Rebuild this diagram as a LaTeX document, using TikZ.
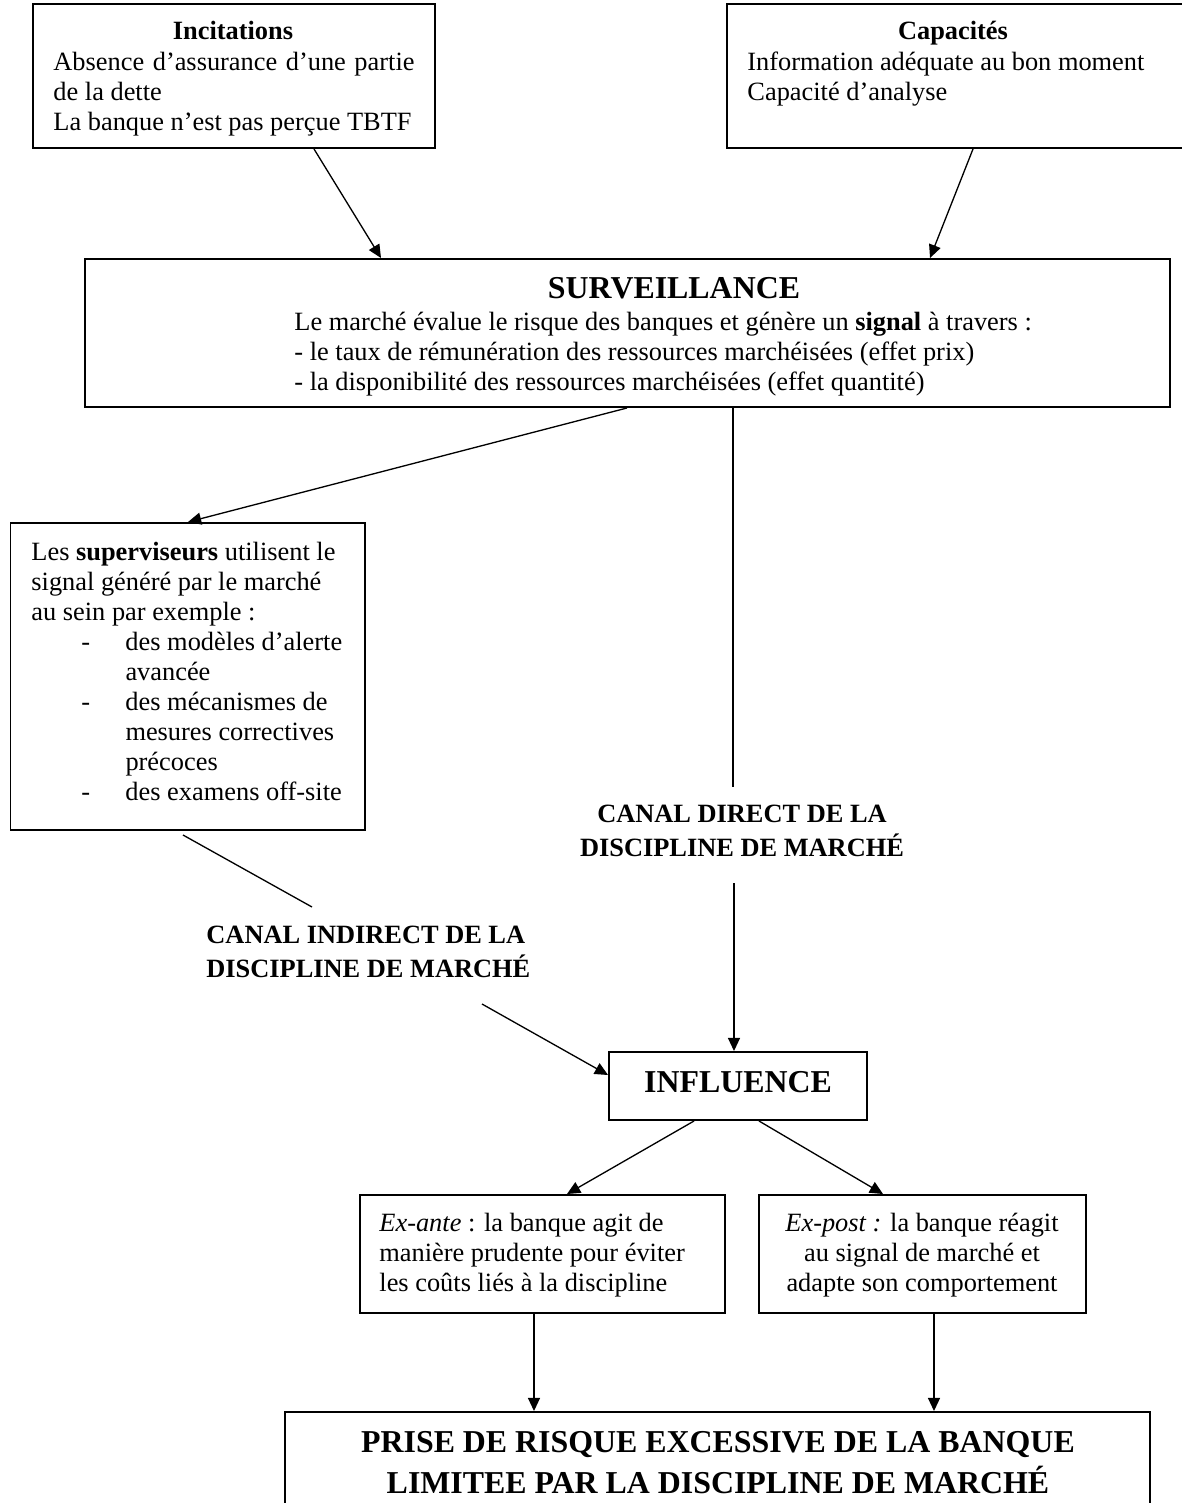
\documentclass[tikz,border=0pt]{standalone}
\usepackage{fontspec}
\setmainfont{Liberation Serif}
\usetikzlibrary{arrows.meta,fit}
\newcommand\supdash{\makebox[42.8pt][l]{\hspace*{22.75pt}-}}
\newcommand\supind{\hspace*{42.8pt}}
\begin{document}
\begin{tikzpicture}[x=0.455pt,y=-0.455pt,
  box/.style={draw, line width=0.9pt, inner sep=0pt},
  txt/.style={inner sep=0pt, font=\fontsize{12}{13.65}\selectfont, align=left},
  ctxt/.style={inner sep=0pt, font=\fontsize{12}{13.65}\selectfont, align=center},
  bld/.style={inner sep=0pt, font=\fontsize{12}{13.65}\selectfont\bfseries},
  big/.style={inner sep=0pt, font=\fontsize{14.5}{17.3}\selectfont\bfseries, align=center},
  arr/.style={line width=0.6pt, -{Triangle[length=6pt,width=5.5pt]}},
  ln/.style={line width=0.6pt}]
\useasboundingbox (0,0) rectangle (1181,1503);

% boxes
\node[box, fit={(33,4) (435,148)}] (inc) {};
\node[box, fit={(727,4) (1184,148)}] (cap) {};
\node[box, fit={(85,259) (1170,407)}] (surv) {};
\node[box, fit={(10.5,523) (365,830)}] (sup) {};
\node[box, fit={(609,1052) (867,1120)}] (infl) {};
\node[box, fit={(360,1195) (725,1313)}] (exa) {};
\node[box, fit={(759,1195) (1086,1313)}] (exp) {};
\node[box, fit={(285,1412) (1150,1520)}] (res) {};

% texts
\node[bld, anchor=base] (incT) at (233,40) {Incitations};
\node[txt, anchor=north west] (incB) at (53,49) {\strut\makebox[164.3pt][s]{Absence d’assurance d’une partie}\\de la dette\\La banque n’est pas perçue TBTF};

\node[bld, anchor=base] (capT) at (953,40) {Capacités};
\node[txt, anchor=north west] (capB) at (747,49) {\strut Information adéquate au bon moment\\Capacité d’analyse};

\node[big, anchor=base] (survT) at (674,299) {SURVEILLANCE};
\node[txt, anchor=north west] (survB) at (294,309) {\strut Le marché évalue le risque des banques et génère un \textbf{signal} à travers :\\- le taux de rémunération des ressources marchéisées (effet prix)\\- la disponibilité des ressources marchéisées (effet quantité)};

\node[txt, anchor=north west] (supB) at (31,539) {\strut Les \textbf{superviseurs} utilisent le\\signal généré par le marché\\au sein par exemple :\\\supdash des modèles d’alerte\\\supind avancée\\\supdash des mécanismes de\\\supind mesures correctives\\\supind précoces\\\supdash des examens off-site};

\node[bld, align=center, anchor=north] (cdir) at (742,801) {\strut CANAL DIRECT DE LA\\DISCIPLINE DE MARCHÉ};
\node[bld, align=left, anchor=north west] (cind) at (206,922) {\strut CANAL INDIRECT DE LA\\DISCIPLINE DE MARCHÉ};

\node[big, anchor=base] (inflT) at (738,1092) {INFLUENCE};

\node[txt, anchor=north west] (exaB) at (379,1210) {\strut\textit{Ex-ante} : la banque agit de\\manière prudente pour éviter\\les coûts liés à la discipline};
\node[ctxt, anchor=north] (expB) at (922,1210) {\strut\textit{Ex-post :} la banque réagit\\au signal de marché et\\adapte son comportement};

\node[big, anchor=north] (resB) at (718,1425.4) {\strut PRISE DE RISQUE EXCESSIVE DE LA BANQUE\\LIMITEE PAR LA DISCIPLINE DE MARCHÉ};

% connectors
\draw[arr] (inc.south -| 314,0) -- (surv.north -| 381,0);
\draw[arr] (cap.south -| 973,0) -- (surv.north -| 930,0);
\draw[arr] (surv.south -| 627,0) -- (sup.north -| 188,0);
\coordinate (dtop) at (733,787);
\draw[ln] (surv.south -| 733,0) -- (dtop);
\coordinate (dbot) at (734,883);
\draw[arr] (dbot) -- (infl.north -| 734,0);
\coordinate (istart) at (183,835);
\coordinate (iend) at (312,907);
\draw[ln] (istart) -- (iend);
\coordinate (i2) at (482,1004);
\draw[arr] (i2) -- (infl.west |- 0,1075);
\draw[arr] (infl.south -| 694,0) -- (exa.north -| 567,0);
\draw[arr] (infl.south -| 759,0) -- (exp.north -| 883,0);
\draw[arr] (exa.south -| 534,0) -- (res.north -| 534,0);
\draw[arr] (exp.south -| 934,0) -- (res.north -| 934,0);
\end{tikzpicture}
\end{document}
